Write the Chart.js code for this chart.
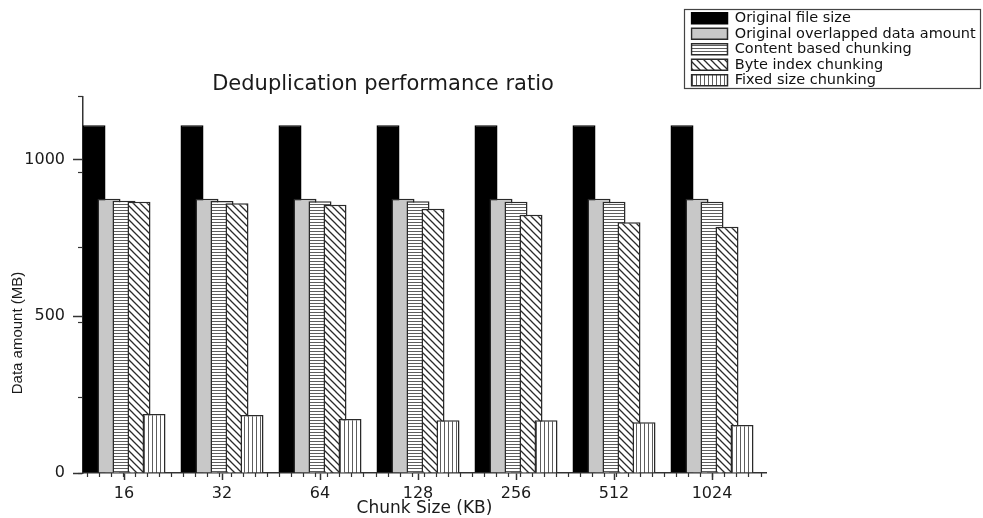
<!DOCTYPE html>
<html>
<head>
<meta charset="utf-8">
<title>Deduplication performance ratio</title>
<script src="https://cdn.jsdelivr.net/npm/chart.js@4.4.0/dist/chart.umd.min.js"></script>
<style>
  html, body { margin: 0; padding: 0; background: #fff; }
  canvas { display: block; }
</style>
</head>
<body>
<canvas id="chart" width="983" height="518"></canvas>
<script>
// values (MB)
const chunkSizes = ['16', '32', '64', '128', '256', '512', '1024'];
const originalFileSize = [1110, 1110, 1110, 1110, 1110, 1110, 1110];
const originalOverlapped = [875, 875, 875, 875, 875, 875, 875];
const contentBased = [869, 868, 867, 867, 866, 866, 866];
const byteIndex = [866, 861, 856, 843, 824, 800, 786];
const fixedSize = [188, 185, 172, 168, 168, 162, 153];
const valueTicks = [0, 500, 1000];

const ctx = document.getElementById('chart').getContext('2d');
const FONT = 'DejaVu Sans';

// hatch fills like the Origin plot
function hatch(kind) {
    const c = document.createElement('canvas');
    const g = c.getContext('2d');
    if (kind === 'h') {
        c.width = 6; c.height = 3;
        g.fillStyle = '#fff'; g.fillRect(0, 0, 6, 3);
        g.fillStyle = '#5e5e5e'; g.fillRect(0, 0, 6, 1);
    } else if (kind === 'v') {
        c.width = 4; c.height = 4;
        g.fillStyle = '#fff'; g.fillRect(0, 0, 4, 4);
        g.fillStyle = '#5e5e5e'; g.fillRect(0, 0, 1, 4);
    } else {
        c.width = 7; c.height = 7;
        g.fillStyle = '#fff'; g.fillRect(0, 0, 7, 7);
        g.strokeStyle = '#2a2a2a'; g.lineWidth = 1.3;
        g.beginPath();
        g.moveTo(-1, -1); g.lineTo(8, 8);
        g.moveTo(-1, 6); g.lineTo(1, 8);
        g.moveTo(6, -1); g.lineTo(8, 1);
        g.stroke();
    }
    return ctx.createPattern(c, 'repeat');
}

const toPoints = vals => vals.map((v, i) => ({ x: i + 1, y: v }));

function series(label, vals, fill, border) {
    return {
        label,
        data: toPoints(vals),
        backgroundColor: fill,
        borderColor: border,
        borderWidth: 1.5,
        categoryPercentage: 0.7653,
        barPercentage: 1.5333,
    };
}

// later series sit on top of earlier ones (Origin overlap)
const forwardOrder = {
    id: 'forwardOrder',
    beforeDatasetsDraw(chart) {
        chart.getSortedVisibleDatasetMetas().forEach(m => m.controller.draw());
        return false;
    }
};

// legend sits top-right in a framed box
const legendBox = {
    id: 'legendBox',
    afterLayout(chart) {
        const lg = chart.legend;
        const w = lg.width, h = lg.height;
        lg.left = 690.5; lg.top = 10;
        lg.right = lg.left + w; lg.bottom = lg.top + h;
    },
    afterDraw(chart) {
        const c = chart.ctx;
        c.save();
        c.strokeStyle = '#444';
        c.lineWidth = 1.2;
        c.strokeRect(684.5, 9.5, 296, 79);
        // y axis title (Origin puts it below centre)
        c.translate(18, 333);
        c.rotate(-Math.PI / 2);
        c.fillStyle = '#1a1a1a';
        c.font = '15px "Liberation Sans"';
        c.textAlign = 'center';
        c.textBaseline = 'middle';
        c.fillText('Data amount (MB)', 0, 0);
        c.restore();
    }
};

new Chart(ctx, {
    type: 'bar',
    data: {
        datasets: [
            series('Original file size', originalFileSize, '#000', '#000'),
            series('Original overlapped data amount', originalOverlapped, '#c8c8c8', '#2a2a2a'),
            series('Content based chunking', contentBased, hatch('h'), '#2a2a2a'),
            series('Byte index chunking', byteIndex, hatch('d'), '#2a2a2a'),
            series('Fixed size chunking', fixedSize, hatch('v'), '#2a2a2a'),
        ]
    },
    plugins: [forwardOrder, legendBox],
    options: {
        responsive: false,
        animation: false,
        devicePixelRatio: 1,
        layout: { padding: { left: 0, right: 217, top: 0, bottom: 0 } },
        plugins: {
            title: {
                display: true,
                text: 'Deduplication performance ratio',
                color: '#1a1a1a',
                font: { family: FONT, size: 21, weight: 'normal', lineHeight: 1.19 },
                padding: { top: 72, bottom: 0 }
            },
            legend: {
                position: 'chartArea',
                align: 'start',
                labels: {
                    color: '#111',
                    font: { family: FONT, size: 14.5 },
                    boxWidth: 36,
                    boxHeight: 11,
                    padding: 1
                }
            },
            tooltip: { enabled: false }
        },
        scales: {
            x: {
                type: 'linear',
                position: 'bottom',
                weight: 2,
                min: 0.5816,
                max: 7.551,
                offset: false,
                afterBuildTicks: s => { s.ticks = chunkSizes.map((_, i) => ({ value: i + 1 })); },
                afterFit: s => { s.height = 45; },
                ticks: {
                    callback: (v, i) => chunkSizes[i],
                    color: '#1a1a1a',
                    font: { family: FONT, size: 16 },
                    padding: 4,
                    maxRotation: 0
                },
                grid: { drawOnChartArea: false, offset: false, tickLength: 7, tickColor: '#333', tickWidth: 1.5 },
                border: { display: true, color: '#333', width: 1.5 },
                title: {
                    display: true,
                    text: 'Chunk Size (KB)',
                    color: '#1a1a1a',
                    font: { family: FONT, size: 17, lineHeight: 1.06 },
                    padding: 0
                }
            },
            xMinor: {
                type: 'linear',
                position: 'bottom',
                weight: 1,
                min: 0.5816,
                max: 7.551,
                afterFit: s => { s.height = 0; },
                ticks: { display: false, stepSize: 0.125, includeBounds: false },
                grid: { drawOnChartArea: false, tickLength: 4, tickColor: '#333', tickWidth: 1.2 },
                border: { display: false }
            },
            y: {
                position: 'left',
                weight: 2,
                min: 0,
                max: 1200,
                afterBuildTicks: s => { s.ticks = valueTicks.map(v => ({ value: v })); },
                afterFit: s => { s.width = 83; },
                ticks: {
                    callback: v => String(v),
                    color: '#1a1a1a',
                    font: { family: FONT, size: 16 },
                    padding: 8
                },
                grid: { drawOnChartArea: false, tickLength: 10, tickColor: '#333', tickWidth: 1.5 },
                border: { display: true, color: '#333', width: 1.5 }
            },
            yMinor: {
                type: 'linear',
                position: 'left',
                weight: 1,
                min: 0,
                max: 1200,
                afterFit: s => { s.width = 0; },
                ticks: { display: false, stepSize: 250, includeBounds: false },
                grid: { drawOnChartArea: false, tickLength: 5, tickColor: '#333', tickWidth: 1.2 },
                border: { display: false }
            }
        }
    }
});
</script>
</body>
</html>
